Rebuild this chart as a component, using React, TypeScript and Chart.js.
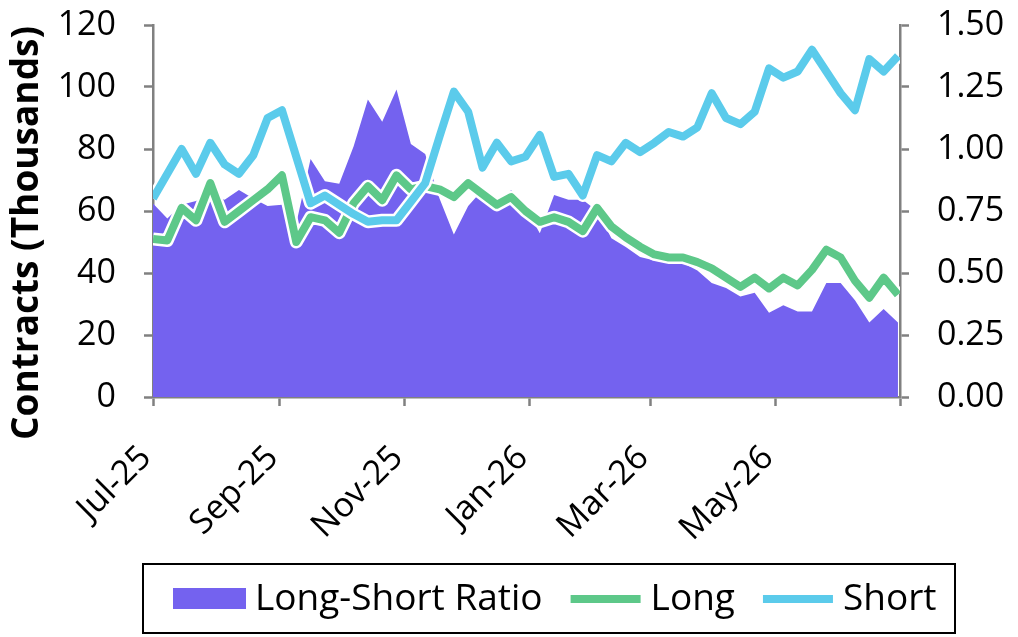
import { useEffect, useRef } from "react";
import { Chart, registerables } from "chart.js";
import type { Plugin } from "chart.js";

Chart.register(...registerables);

// month ticks, as days from 1 Jul 2025
const tickDays = [0, 62, 123, 184, 243, 304, 365];
const tickLabels = ["Jul-25", "Sep-25", "Nov-25", "Jan-26", "Mar-26", "May-26", ""];

// weekly readings, Jul-25 .. Jun-26
const ratio = [
  0.78, 0.72, 0.775, 0.79, 0.815, 0.795, 0.835, 0.8, 0.77, 0.775, 0.7, 0.96, 0.87, 0.86,
  1.01, 1.2, 1.11, 1.24, 1.02, 0.98, 0.8, 0.655, 0.77, 0.835, 0.775, 0.835, 0.765, 0.66,
  0.815, 0.795, 0.795, 0.75, 0.64, 0.605, 0.565, 0.55, 0.54, 0.54, 0.51, 0.46, 0.44, 0.405,
  0.42, 0.34, 0.37, 0.345, 0.345, 0.46, 0.46, 0.39, 0.3, 0.355, 0.3,
];
const long = [
  51, 50.5, 61, 57, 69, 56.5, 60, 63.5, 67, 71.5, 50, 58, 57, 53, 62.5, 68, 63.5, 71.5, 67,
  68, 67, 64.5, 69, 65.5, 62, 64.5, 60, 56.5, 58, 56.5, 53.5, 61, 55, 51.5, 48.5, 46, 45, 45,
  43.5, 41.5, 38.5, 35.5, 38.5, 35, 38.5, 36, 41, 47.5, 45, 37.5, 32, 38.5, 33,
];
const short = [
  64, 72, 80, 72, 82, 75, 72, 78, 90, 92.5, 77.5, 62.5, 65, 62, 59, 56.5, 57, 57, 63, 69, 84,
  98.5, 92, 74, 82, 76, 77.5, 84.5, 71, 72, 65, 78, 76, 82, 79, 82, 85.5, 84, 87, 98, 90, 88,
  92, 106, 103, 105, 112, 105, 98, 92.5, 109, 105, 110,
];

const weekDays = ratio.map((_, i) => i * 7);
const toPoints = (vals: number[]) => vals.map((y, i) => ({ x: weekDays[i], y }));

const FONT = "'Open Sans', 'DejaVu Sans', sans-serif";
const AXIS = "#808080";
const PURPLE = "#7462EF";
const GREEN = "#5DC889";
const CYAN = "#5BCBEB";

const axisTitle: Plugin<"line"> = {
  id: "axisTitle",
  afterDraw(chart) {
    const { ctx, chartArea } = chart;
    ctx.save();
    ctx.translate(27, (chartArea.top + chartArea.bottom) / 2 + 22);
    ctx.rotate(-Math.PI / 2);
    ctx.font = `bold 37px ${FONT}`;
    ctx.fillStyle = "#000";
    ctx.textAlign = "center";
    ctx.textBaseline = "middle";
    ctx.fillText("Contracts (Thousands)", 0, 0);
    ctx.restore();
  },
};

const boxedLegend: Plugin<"line"> = {
  id: "boxedLegend",
  afterDraw(chart) {
    const { ctx } = chart;
    const items = chart.data.datasets.filter((d: any) => !d.halo).reverse();
    ctx.save();
    ctx.strokeStyle = "#000";
    ctx.lineWidth = 2;
    ctx.strokeRect(143, 564, 812, 69);
    ctx.font = `37px ${FONT}`;
    ctx.textBaseline = "middle";
    const cy = 599;
    let x = 173;
    for (const ds of items as any[]) {
      if (ds.fill) {
        ctx.fillStyle = ds.backgroundColor;
        ctx.fillRect(x, cy - 11, 73, 21);
        x += 82;
      } else {
        ctx.strokeStyle = ds.borderColor;
        ctx.lineWidth = ds.borderWidth;
        ctx.beginPath();
        ctx.moveTo(x, cy);
        ctx.lineTo(x + 70, cy);
        ctx.stroke();
        x += 80;
      }
      ctx.fillStyle = "#000";
      ctx.fillText(ds.label, x, cy);
      x += ctx.measureText(ds.label).width + 28;
    }
    ctx.restore();
  },
};

const gridOpts = {
  drawOnChartArea: false,
  drawTicks: true,
  tickLength: 9,
  tickColor: AXIS,
  tickWidth: 2.5,
  color: AXIS,
};
const borderOpts = { color: AXIS, width: 2.5 };
const tickFont = { family: FONT, size: 34 };

// fixed side width; drop the extra top/bottom room Chart.js reserves for labels
const fixWidth = (w: number) => (scale: any) => {
  scale.width = w;
  scale.paddingTop = 0;
  scale.paddingBottom = 0;
};

export default function App() {
  const canvasRef = useRef<HTMLCanvasElement | null>(null);

  useEffect(() => {
    if (!canvasRef.current) return;
    const line = (label: string, vals: number[], color: string, halo = false) => ({
      label,
      halo,
      data: toPoints(vals),
      borderColor: halo ? "#ffffff" : color,
      borderWidth: halo ? 13 : 8,
      borderJoinStyle: "round" as const,
      pointRadius: 0,
      fill: false,
      yAxisID: "y",
    });

    const chart = new Chart(canvasRef.current, {
      type: "line",
      data: {
        datasets: [
          line("Short", short, CYAN),
          line("Short", short, CYAN, true),
          line("Long", long, GREEN),
          line("Long", long, GREEN, true),
          {
            label: "Long-Short Ratio",
            data: toPoints(ratio),
            backgroundColor: PURPLE,
            borderColor: PURPLE,
            borderWidth: 0,
            pointRadius: 0,
            fill: "origin",
            yAxisID: "y1",
          } as any,
        ],
      },
      options: {
        animation: false,
        responsive: true,
        maintainAspectRatio: false,
        layout: { padding: { top: 25, bottom: 80, left: 0, right: 0 } },
        plugins: { legend: { display: false }, tooltip: { enabled: false } },
        scales: {
          x: {
            type: "linear",
            min: 0,
            max: 365,
            z: 1,
            afterBuildTicks: (scale) => {
              scale.ticks = tickDays.map((value) => ({ value }));
            },
            afterFit: (scale) => {
              scale.height = 160;
            },
            grid: gridOpts,
            border: borderOpts,
            ticks: {
              autoSkip: false,
              minRotation: 45,
              maxRotation: 45,
              labelOffset: -7,
              padding: 32,
              color: "#000",
              font: tickFont,
              callback: (_v, i) => tickLabels[i],
            },
          },
          y: {
            position: "left",
            min: 0,
            max: 120,
            z: 1,
            afterFit: fixWidth(153),
            grid: gridOpts,
            border: borderOpts,
            ticks: { stepSize: 20, padding: 28, color: "#000", font: tickFont },
          },
          y1: {
            position: "right",
            min: 0,
            max: 1.5,
            z: 1,
            afterFit: fixWidth(118),
            grid: gridOpts,
            border: borderOpts,
            ticks: {
              stepSize: 0.25,
              padding: 28,
              color: "#000",
              font: tickFont,
              callback: (v) => Number(v).toFixed(2),
            },
          },
        },
      },
      plugins: [axisTitle, boxedLegend],
    });

    return () => chart.destroy();
  }, []);

  return (
    <div style={{ position: "fixed", left: 0, top: 0, width: 1018, height: 637, background: "#fff" }}>
      <canvas ref={canvasRef} />
    </div>
  );
}
